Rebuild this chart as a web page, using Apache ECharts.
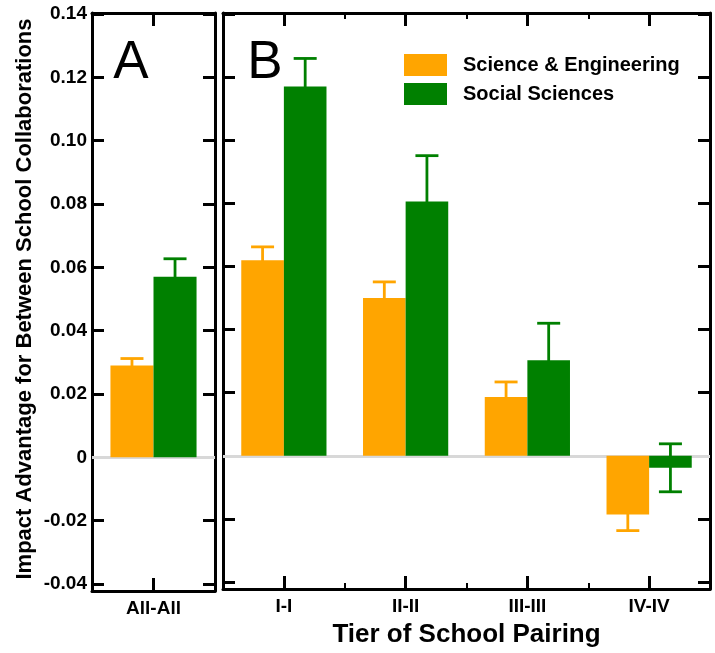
<!DOCTYPE html>
<html>
<head>
<meta charset="utf-8">
<script src="https://cdn.jsdelivr.net/npm/echarts@6/dist/echarts.min.js"></script>
<style>
  html, body { margin: 0; padding: 0; background: #fff; }
  #chart { width: 715px; height: 653px; }
</style>
</head>
<body>
<div id="chart"></div>
<script>
// panel A: all pairings together
const categoriesA = ['All-All']
const sciA = [0.029]
const sciErrA = [0.0022]
const socA = [0.057]
const socErrA = [0.0057]

// panel B: by tier pairing
const categoriesB = ['I-I', 'II-II', 'III-III', 'IV-IV']
const sciB = [0.062, 0.050, 0.0186, -0.0186]
const sciErrB = [0.0042, 0.0051, 0.0048, 0.0051]
const socB = [0.117, 0.0806, 0.0303, -0.0038]
const socErrB = [0.0089, 0.0145, 0.0117, 0.0076]

const yTicks = [-0.04, -0.02, 0, 0.02, 0.04, 0.06, 0.08, 0.10, 0.12, 0.14]

const ORANGE = '#FFA500'
const GREEN = '#008000'
const FONT = 'Liberation Sans, Arial, Helvetica, sans-serif'

const chart = echarts.init(document.getElementById('chart'))

function errSeries(name, xi, yi, vals, errs, color, side) {
  return {
    name: name,
    type: 'custom',
    xAxisIndex: xi,
    yAxisIndex: yi,
    z: 1,
    silent: true,
    itemStyle: { color: color },
    data: vals.map(function (v, i) { return [i, v, errs[i]] }),
    encode: { x: 0, y: 1 },
    renderItem: function (params, api) {
      const cat = api.value(0)
      const v = api.value(1)
      const e = api.value(2)
      const w = api.size([1, 0])[0]
      const off = side * w * 0.175
      const hi = api.coord([cat, v + e])
      const lo = api.coord([cat, v - e])
      const x = hi[0] + off
      const cap = 11.5
      const st = { stroke: color, lineWidth: 2.8 }
      return {
        type: 'group',
        children: [
          { type: 'line', shape: { x1: x, y1: hi[1], x2: x, y2: lo[1] }, style: st },
          { type: 'line', shape: { x1: x - cap, y1: hi[1], x2: x + cap, y2: hi[1] }, style: st },
          { type: 'line', shape: { x1: x - cap, y1: lo[1], x2: x + cap, y2: lo[1] }, style: st }
        ]
      }
    }
  }
}

function barSeries(name, xi, yi, vals, color, zeroLine) {
  const s = {
    name: name,
    type: 'bar',
    xAxisIndex: xi,
    yAxisIndex: yi,
    z: 2,
    barWidth: '35%',
    barGap: '0%',
    itemStyle: { color: color },
    data: vals
  }
  if (zeroLine) {
    s.markLine = {
      silent: true,
      symbol: 'none',
      label: { show: false },
      lineStyle: { color: '#d8d8d8', width: 3, type: 'solid' },
      data: [{ yAxis: 0 }],
      z: 1
    }
  }
  return s
}

const yBase = {
  type: 'value',
  min: -0.0422,
  max: 0.1403,
  splitLine: { show: false },
  axisLine: { show: true, lineStyle: { color: '#000', width: 3 } },
  axisTick: {
    show: true, inside: true, length: 12,
    lineStyle: { color: '#000', width: 3 },
    customValues: yTicks
  },
  axisLabel: { show: false, customValues: yTicks }
}

function yAxisOf(grid, pos, labels) {
  const a = JSON.parse(JSON.stringify(yBase))
  a.gridIndex = grid
  a.position = pos
  if (labels) {
    a.axisLabel = {
      show: true,
      customValues: yTicks,
      margin: 5,
      fontSize: 19,
      fontWeight: 'bold',
      color: '#000',
      fontFamily: FONT,
      formatter: function (v) { return Math.abs(v) < 1e-9 ? '0' : v.toFixed(2) }
    }
  }
  return a
}

function xAxisOf(grid, pos, data, opts) {
  return Object.assign({
    type: 'category',
    gridIndex: grid,
    position: pos,
    data: data,
    axisLine: { show: true, onZero: false, lineStyle: { color: '#000', width: 3 } },
    axisTick: { show: true, inside: true, alignWithLabel: true, length: 13, lineStyle: { color: '#000', width: 3 } },
    axisLabel: { show: false },
    splitLine: { show: false }
  }, opts || {})
}

const minorTick = { show: true, inside: true, alignWithLabel: false, length: 6, lineStyle: { color: '#000', width: 2 } }
const xLabel = { show: true, margin: 8, fontSize: 19, fontWeight: 'bold', color: '#000', fontFamily: FONT }

const option = {
  animation: false,
  backgroundColor: '#fff',
  textStyle: { fontFamily: FONT },
  grid: [
    { left: 92, top: 13, width: 123, height: 578 },
    { left: 223, top: 13, width: 487, height: 578 }
  ],
  legend: {
    orient: 'vertical',
    left: 404,
    top: 54,
    padding: 0,
    itemWidth: 43,
    itemHeight: 22,
    itemGap: 7,
    icon: 'rect',
    data: ['Science & Engineering', 'Social Sciences'],
    textStyle: { fontSize: 20, fontWeight: 'bold', color: '#000', fontFamily: FONT, padding: [0, 0, 0, 11] }
  },
  xAxis: [
    xAxisOf(0, 'bottom', categoriesA, { axisLabel: xLabel }),
    xAxisOf(0, 'top', categoriesA),
    xAxisOf(1, 'bottom', categoriesB, {
      axisLabel: xLabel,
      name: 'Tier of School Pairing',
      nameLocation: 'middle',
      nameGap: 33,
      nameTextStyle: { fontSize: 26, fontWeight: 'bold', color: '#000', fontFamily: FONT }
    }),
    xAxisOf(1, 'bottom', categoriesB, { axisLine: { show: false, onZero: false }, axisTick: minorTick }),
    xAxisOf(1, 'top', categoriesB),
    xAxisOf(1, 'top', categoriesB, { axisLine: { show: false, onZero: false }, axisTick: minorTick })
  ],
  yAxis: [
    yAxisOf(0, 'left', true),
    yAxisOf(0, 'right', false),
    yAxisOf(1, 'left', false),
    yAxisOf(1, 'right', false)
  ],
  graphic: [
    {
      type: 'text', x: 25, y: 299, rotation: Math.PI / 2,
      style: {
        text: 'Impact Advantage for Between School Collaborations',
        fontSize: 22, fontWeight: 'bold', fontFamily: FONT, fill: '#000',
        textAlign: 'center', textVerticalAlign: 'middle'
      }
    },
    { type: 'text', x: 131, y: 63, style: { text: 'A', fontSize: 53, fontFamily: FONT, fill: '#000', textAlign: 'center', textVerticalAlign: 'middle' } },
    { type: 'text', x: 265, y: 63, style: { text: 'B', fontSize: 53, fontFamily: FONT, fill: '#000', textAlign: 'center', textVerticalAlign: 'middle' } }
  ],
  series: [
    barSeries('Science & Engineering', 0, 0, sciA, ORANGE, true),
    barSeries('Social Sciences', 0, 0, socA, GREEN, false),
    barSeries('Science & Engineering', 2, 2, sciB, ORANGE, true),
    barSeries('Social Sciences', 2, 2, socB, GREEN, false),
    errSeries('Science & Engineering', 0, 0, sciA, sciErrA, ORANGE, -1),
    errSeries('Social Sciences', 0, 0, socA, socErrA, GREEN, 1),
    errSeries('Science & Engineering', 2, 2, sciB, sciErrB, ORANGE, -1),
    errSeries('Social Sciences', 2, 2, socB, socErrB, GREEN, 1)
  ]
}

chart.setOption(option)
</script>
</body>
</html>
